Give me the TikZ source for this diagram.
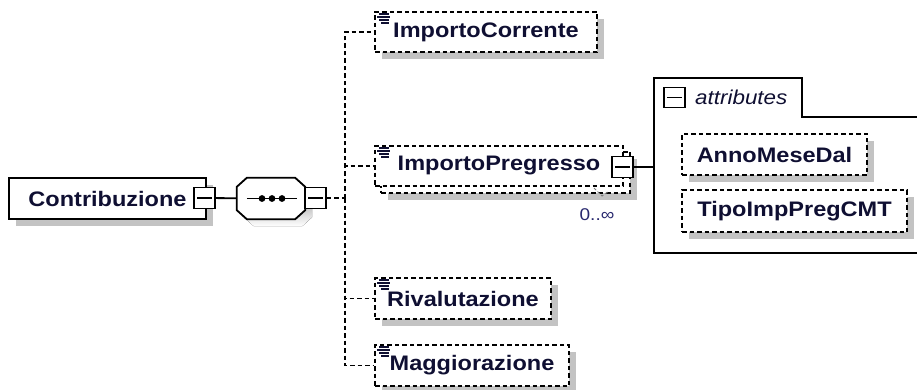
\documentclass[tikz,border=0pt]{standalone}
\usepackage{fontspec}
\setmainfont{Liberation Sans}[FakeStretch=1.12]
\usetikzlibrary{shadows,calc}
\definecolor{shade}{RGB}{195,195,195}
\definecolor{txt}{RGB}{15,15,50}
\definecolor{cnt}{RGB}{40,40,110}

% octagon outline round a named node
\newcommand{\octagonpath}[1]{([xshift=10pt]#1.north west) -- ([xshift=-10pt]#1.north east) -- ([yshift=-9pt]#1.north east) -- ([yshift=9pt]#1.south east) -- ([xshift=-10pt]#1.south east) -- ([xshift=10pt]#1.south west) -- ([yshift=9pt]#1.south west) -- ([yshift=-9pt]#1.north west) -- cycle}

\begin{document}
\begin{tikzpicture}[x=1pt, y=-1pt,
    box/.style={draw, line width=1.8pt, dash pattern=on 4.5pt off 3pt, fill=white, minimum height=40pt, inner sep=0pt, font=\fontsize{21}{24}\selectfont\bfseries, text=txt},
    elem/.style={box, drop shadow={shadow xshift=7pt, shadow yshift=-7pt, fill=shade, opacity=1}},
    frame/.style={minimum width=68pt, minimum height=41pt, inner sep=0pt},
    tog/.style={draw, line width=1.8pt, fill=white, minimum width=21pt, minimum height=21pt, inner sep=0pt, path picture={\draw[line width=1.8pt] ([xshift=3pt]path picture bounding box.west) -- ([xshift=-3pt]path picture bounding box.east);}},
    link/.style={line width=1.8pt},
    dlink/.style={line width=1.8pt, dash pattern=on 4.5pt off 3pt},
    icon/.style={line width=1.3pt, draw=txt}
  ]
    \useasboundingbox (0,0) rectangle (917,390);

    % root and sequence
    \node[elem, solid, minimum width=197pt, minimum height=41pt] (contrib) at (107.5,198.5) {Contribuzione};
    \node[tog] (ctog) at (204.5,198) {};
    \node[frame] (seqsh) at (278,205.5) {};
    \node[frame] (seq) at (271,198.5) {};
    \fill[shade] \octagonpath{seqsh};
    \draw[link, fill=white] \octagonpath{seq};
    \draw[link] ([xshift=10pt]seq.west) -- ([xshift=-8pt]seq.east);
    \foreach \dx in {-9,1,11}
      \fill ($(seq.center)+(\dx,0)$) circle (3.4pt);
    \node[tog] (stog) at (315.5,198) {};
    \coordinate (fork) at (345,198);

    % children
    \node[elem, minimum width=222pt] (cor) at (486,32) {ImportoCorrente};
    \node[elem, minimum width=249pt, minimum height=41pt] (preback) at (505.5,172.5) {};
    \node[box, minimum width=248pt] (pre) at (499,166) {ImportoPregresso};
    \node[tog] (ptog) at (622.5,167) {};
    \node[font=\fontsize{17}{20}\selectfont, text=cnt, inner sep=0pt] (count) at (597,215) {0..∞};
    \draw[line width=1pt, draw=gray, dash pattern=on 3pt off 2pt] (594,188) -- (602,196) -- (609,191);
    \node[elem, minimum width=176pt, minimum height=41pt] (riv) at (463,298.5) {Rivalutazione};
    \node[elem, minimum width=194pt, minimum height=41pt] (mag) at (472,365.5) {Maggiorazione};

    \foreach \n in {cor,pre,riv,mag}{
      \draw[icon] ([shift={(5,3)}]\n.north west) -- ++(10,0)
                  ([shift={(3,6)}]\n.north west) -- ++(13,0)
                  ([shift={(5,9)}]\n.north west) -- ++(10,0)
                  ([shift={(7,12)}]\n.north west) -- ++(8,0);
    }

    \draw[link] (ctog) -- (seq);
    \draw[dlink] (stog) -- (fork);
    \draw[dlink] (fork) |- (cor);
    \draw[dlink] (fork) |- (pre);
    \draw[dlink] (fork) |- (riv);
    \draw[dlink] (fork) |- (mag);

    % attributes
    \draw[link] (918,117) -- (802,117) -- (802,78) -- (654,78) -- (654,253) -- (918,253);
    \coordinate (attr) at (654,167);
    \draw[link] (ptog) -- (attr);
    \node[tog, minimum height=20pt] (atog) at (674.5,97.5) {};
    \node[anchor=west, inner sep=0pt, font=\fontsize{20}{24}\selectfont\itshape, text=txt] (atit) at (695,97) {attributes};
    \node[elem, minimum width=185pt, minimum height=41pt] (anno) at (774.5,154.5) {AnnoMeseDal};
    \node[elem, minimum width=225pt, minimum height=42pt] (tipo) at (794.5,211) {TipoImpPregCMT};
  \end{tikzpicture}
\end{document}
